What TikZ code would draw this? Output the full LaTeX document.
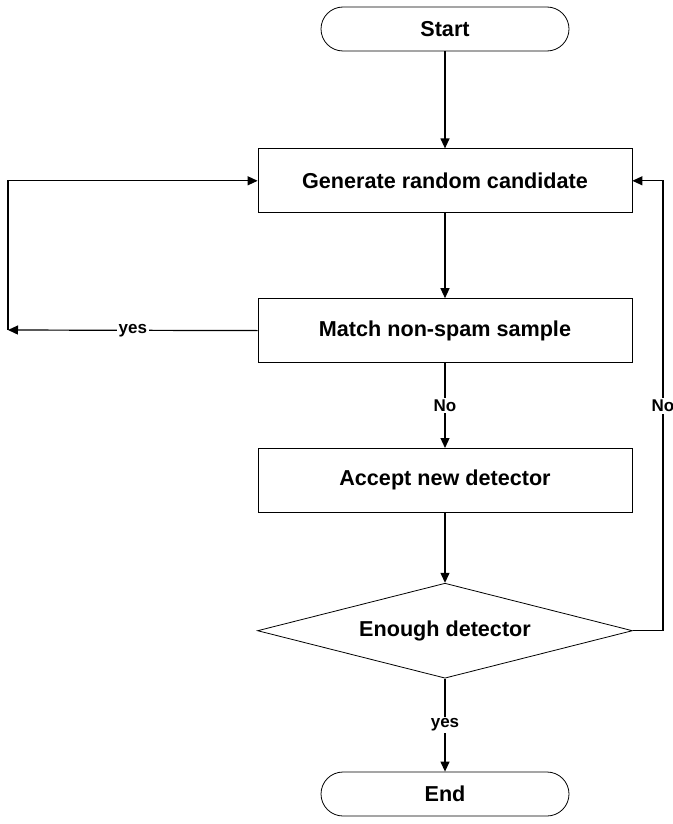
\documentclass[tikz,border=0pt]{standalone}
\usepackage{fontspec}
\setmainfont{Liberation Sans}
\usetikzlibrary{arrows.meta, positioning, shapes.geometric}

\begin{document}
\begin{tikzpicture}[
x=0.5pt, y=-0.5pt,
font=\bfseries\fontsize{10.8}{12}\selectfont,
box/.style={draw,
rectangle,
minimum width=187pt,
minimum height=32pt,
align=center},
terminal/.style={draw,
rectangle,
rounded corners=11pt,
minimum width=124pt,
minimum height=22pt},
decision/.style={draw,
diamond,
aspect=3.95,
inner sep=0pt,
minimum width=187.5pt,
minimum height=47.5pt},
arrow/.style={-{Triangle[length=5pt,width=4.5pt]}, semithick},
lbl/.style={fill=white, inner sep=1pt, font=\bfseries\fontsize{8.5}{9}\selectfont}
]
\useasboundingbox (0,0) rectangle (673,824);

\node[terminal] (start) at (445,29) {Start};
\node[box, below=48.5pt of start] (gen) {Generate random candidate};
\node[box, below=42.5pt of gen] (match) {Match non-spam sample};
\node[box, below=42.5pt of match] (accept) {Accept new detector};
\node[decision, below=35pt of accept] (enough) {Enough detector};
\node[terminal, below=46.5pt of enough] (end) {End};

\coordinate (loopL) at (8,330);
\coordinate (loopR) at (663,631);

\draw[arrow] (start) -- (gen);
\draw[arrow] (gen) -- (match);
\draw[arrow] (match) -- node[lbl]{No} (accept);
\draw[arrow] (accept) -- (enough);
\draw[arrow] (enough) -- node[lbl]{yes} (end);

\draw[arrow] (match.west) -- node[lbl]{yes} (loopL);
\draw[arrow] (loopL) |- (gen.west);
\draw[arrow] (enough.east) -- (loopR |- enough.east) |- node[lbl, pos=0.25]{No} (gen.east);

\end{tikzpicture}
\end{document}
